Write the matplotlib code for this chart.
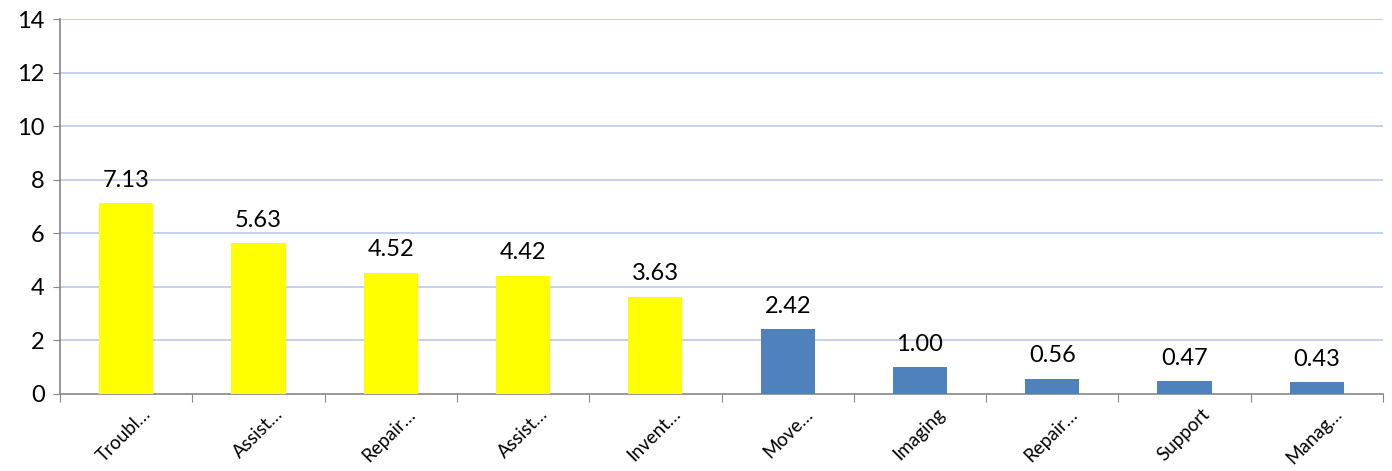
import matplotlib
matplotlib.use("Agg")
import matplotlib.pyplot as plt
from matplotlib.transforms import ScaledTranslation

categories = ["Troubl…", "Assist…", "Repair…", "Assist…", "Invent…",
              "Move…", "Imaging", "Repair…", "Support", "Manag…"]
values = [7.13, 5.63, 4.52, 4.42, 3.63, 2.42, 1.00, 0.56, 0.47, 0.43]
colors = ["#FFFF00"] * 5 + ["#4F81BD"] * 5
yticks = [0, 2, 4, 6, 8, 10, 12, 14]

plt.rcParams['font.family'] = ['Lato', 'DejaVu Sans']

fig = plt.figure(figsize=(13.92, 4.71), dpi=100)
ax = fig.add_axes([60/1392, 1-394/471, (1383-60)/1392, (394-19)/471])

x = list(range(len(categories)))
ax.bar(x, values, width=0.41, color=colors, zorder=3)
ax.set_xlim(-0.5, len(categories) - 0.5)
ax.set_ylim(0, 14)
ax.set_yticks(yticks)
ax.tick_params(axis='y', labelsize=17, length=5, color='#868686', pad=6)
for t in yticks[1:]:
    ax.axhline(t, color='#B9C9E8', lw=1.2, zorder=1)

ax.set_xticks([i - 0.5 for i in range(len(categories) + 1)], minor=False)
ax.set_xticklabels([])
ax.tick_params(axis='x', length=6, color='#868686')
ax.set_xticks(x, minor=True)
ax.set_xticklabels(categories, minor=True, rotation=45, ha='right',
                   rotation_mode='anchor', fontsize=13.5)
ax.tick_params(axis='x', which='minor', length=0, pad=8)
for lab in ax.get_xticklabels(minor=True):
    lab.set_transform(lab.get_transform() + ScaledTranslation(16/100, 0, fig.dpi_scale_trans))

for s in ['top', 'right']:
    ax.spines[s].set_visible(False)
for s in ['left', 'bottom']:
    ax.spines[s].set_color('#868686')
    ax.spines[s].set_linewidth(1.2)

for xi, v in zip(x, values):
    ax.annotate(f"{v:.2f}", (xi, v), xytext=(0, 9), textcoords='offset points',
                ha='center', va='bottom', fontsize=17)

fig.savefig("out.png", dpi=100)
